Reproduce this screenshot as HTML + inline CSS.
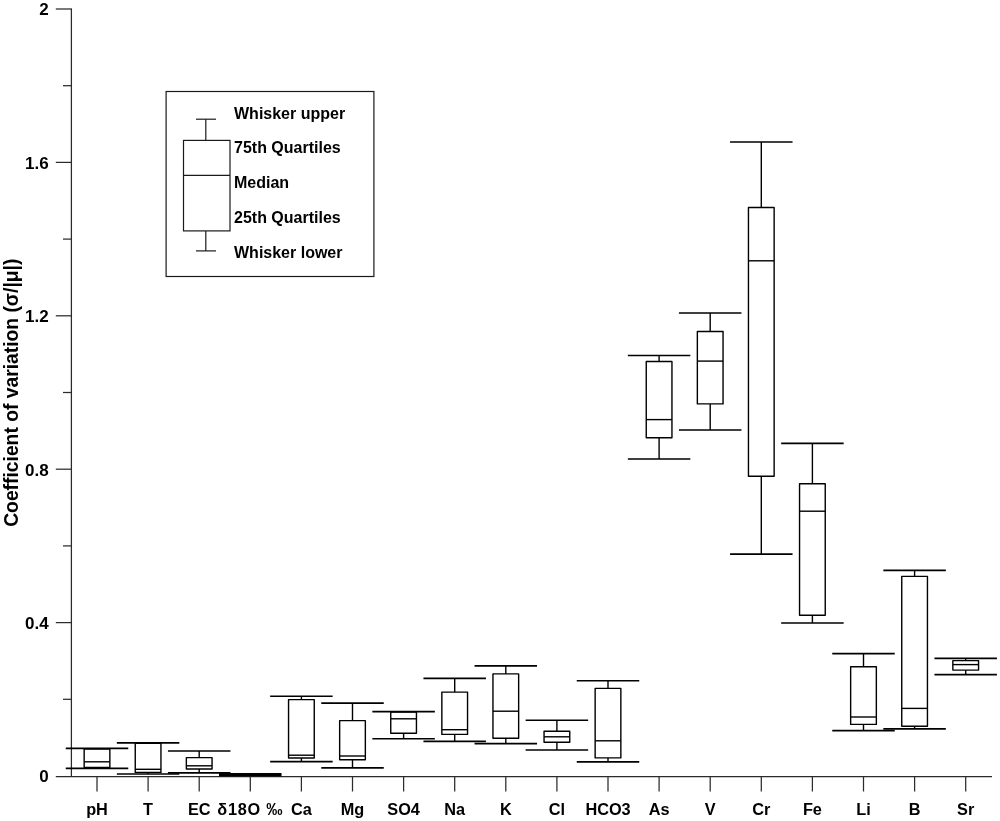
<!DOCTYPE html>
<html><head><meta charset="utf-8"><style>
html,body{margin:0;padding:0;background:#fff;}
svg{display:block;will-change:transform;}
</style></head><body>
<svg width="1000" height="821" viewBox="0 0 1000 821">
<rect width="1000" height="821" fill="#fff"/>
<g stroke="#2b2b2b" stroke-width="1.25" fill="none">
<line x1="71.4" y1="8.4" x2="71.4" y2="776.55"/>
<line x1="55.8" y1="776.55" x2="992" y2="776.55"/>
<line x1="63" y1="699.30" x2="71.4" y2="699.30"/>
<line x1="55.8" y1="622.60" x2="71.4" y2="622.60"/>
<line x1="63" y1="545.90" x2="71.4" y2="545.90"/>
<line x1="55.8" y1="469.20" x2="71.4" y2="469.20"/>
<line x1="63" y1="392.50" x2="71.4" y2="392.50"/>
<line x1="55.8" y1="315.80" x2="71.4" y2="315.80"/>
<line x1="63" y1="239.10" x2="71.4" y2="239.10"/>
<line x1="55.8" y1="162.40" x2="71.4" y2="162.40"/>
<line x1="63" y1="85.70" x2="71.4" y2="85.70"/>
<line x1="55.8" y1="9.00" x2="71.4" y2="9.00"/>
<line x1="97.00" y1="776.55" x2="97.00" y2="791.5"/>
<line x1="148.10" y1="776.55" x2="148.10" y2="791.5"/>
<line x1="199.20" y1="776.55" x2="199.20" y2="791.5"/>
<line x1="250.30" y1="776.55" x2="250.30" y2="791.5"/>
<line x1="301.40" y1="776.55" x2="301.40" y2="791.5"/>
<line x1="352.50" y1="776.55" x2="352.50" y2="791.5"/>
<line x1="403.60" y1="776.55" x2="403.60" y2="791.5"/>
<line x1="454.70" y1="776.55" x2="454.70" y2="791.5"/>
<line x1="505.80" y1="776.55" x2="505.80" y2="791.5"/>
<line x1="556.90" y1="776.55" x2="556.90" y2="791.5"/>
<line x1="608.00" y1="776.55" x2="608.00" y2="791.5"/>
<line x1="659.10" y1="776.55" x2="659.10" y2="791.5"/>
<line x1="710.20" y1="776.55" x2="710.20" y2="791.5"/>
<line x1="761.30" y1="776.55" x2="761.30" y2="791.5"/>
<line x1="812.40" y1="776.55" x2="812.40" y2="791.5"/>
<line x1="863.50" y1="776.55" x2="863.50" y2="791.5"/>
<line x1="914.60" y1="776.55" x2="914.60" y2="791.5"/>
<line x1="965.70" y1="776.55" x2="965.70" y2="791.5"/>
</g>
<g font-family="Liberation Sans, sans-serif" font-weight="bold" font-size="17" text-anchor="end" fill="#000">
<text x="48.6" y="15.30">2</text>
<text x="48.6" y="168.70">1.6</text>
<text x="48.6" y="322.10">1.2</text>
<text x="48.6" y="475.50">0.8</text>
<text x="48.6" y="628.90">0.4</text>
<text x="48.6" y="782.30">0</text>
</g>
<g font-family="Liberation Sans, sans-serif" font-weight="bold" font-size="16.3" text-anchor="middle" fill="#000">
<text x="97.00" y="814.6">pH</text>
<text x="148.10" y="814.6">T</text>
<text x="199.20" y="814.6">EC</text>
<text x="250.30" y="814.6" letter-spacing="0.75">δ18O ‰</text>
<text x="301.40" y="814.6">Ca</text>
<text x="352.50" y="814.6">Mg</text>
<text x="403.60" y="814.6">SO4</text>
<text x="454.70" y="814.6">Na</text>
<text x="505.80" y="814.6">K</text>
<text x="556.90" y="814.6">Cl</text>
<text x="608.00" y="814.6">HCO3</text>
<text x="659.10" y="814.6">As</text>
<text x="710.20" y="814.6">V</text>
<text x="761.30" y="814.6">Cr</text>
<text x="812.40" y="814.6">Fe</text>
<text x="863.50" y="814.6">Li</text>
<text x="914.60" y="814.6">B</text>
<text x="965.70" y="814.6">Sr</text>
</g>
<text transform="translate(17.5,392.7) rotate(-90)" font-family="Liberation Sans, sans-serif" font-weight="bold" font-size="19.3" text-anchor="middle" fill="#000">Coefficient of variation (σ/|μ|)</text>
<g stroke="#000" fill="none" stroke-linejoin="round">
<line x1="65.75" y1="748.4" x2="128.25" y2="748.4" stroke-width="1.65"/>
<line x1="65.75" y1="768.3" x2="128.25" y2="768.3" stroke-width="1.65"/>
<line x1="97.00" y1="748.4" x2="97.00" y2="749.1" stroke-width="1.4"/>
<line x1="97.00" y1="767.5" x2="97.00" y2="768.3" stroke-width="1.4"/>
<rect x="84.15" y="749.1" width="25.70" height="18.40" stroke-width="1.4"/>
<line x1="84.15" y1="761.8" x2="109.85" y2="761.8" stroke-width="1.4"/>
<line x1="116.85" y1="742.8" x2="179.35" y2="742.8" stroke-width="1.65"/>
<line x1="116.85" y1="774.0" x2="179.35" y2="774.0" stroke-width="1.65"/>
<line x1="148.10" y1="742.8" x2="148.10" y2="743.2" stroke-width="1.4"/>
<line x1="148.10" y1="772.4" x2="148.10" y2="774.0" stroke-width="1.4"/>
<rect x="135.25" y="743.2" width="25.70" height="29.20" stroke-width="1.4"/>
<line x1="135.25" y1="769.3" x2="160.95" y2="769.3" stroke-width="1.4"/>
<line x1="167.95" y1="751.0" x2="230.45" y2="751.0" stroke-width="1.65"/>
<line x1="167.95" y1="772.9" x2="230.45" y2="772.9" stroke-width="1.65"/>
<line x1="199.20" y1="751.0" x2="199.20" y2="757.6" stroke-width="1.4"/>
<line x1="199.20" y1="769.0" x2="199.20" y2="772.9" stroke-width="1.4"/>
<rect x="186.35" y="757.6" width="25.70" height="11.40" stroke-width="1.4"/>
<line x1="186.35" y1="765.8" x2="212.05" y2="765.8" stroke-width="1.4"/>
<line x1="270.15" y1="696.2" x2="332.65" y2="696.2" stroke-width="1.65"/>
<line x1="270.15" y1="761.6" x2="332.65" y2="761.6" stroke-width="1.65"/>
<line x1="301.40" y1="696.2" x2="301.40" y2="699.6" stroke-width="1.4"/>
<line x1="301.40" y1="758.0" x2="301.40" y2="761.6" stroke-width="1.4"/>
<rect x="288.55" y="699.6" width="25.70" height="58.40" stroke-width="1.4"/>
<line x1="288.55" y1="755.2" x2="314.25" y2="755.2" stroke-width="1.4"/>
<line x1="321.25" y1="703.1" x2="383.75" y2="703.1" stroke-width="1.65"/>
<line x1="321.25" y1="767.8" x2="383.75" y2="767.8" stroke-width="1.65"/>
<line x1="352.50" y1="703.1" x2="352.50" y2="720.6" stroke-width="1.4"/>
<line x1="352.50" y1="759.8" x2="352.50" y2="767.8" stroke-width="1.4"/>
<rect x="339.65" y="720.6" width="25.70" height="39.20" stroke-width="1.4"/>
<line x1="339.65" y1="756.0" x2="365.35" y2="756.0" stroke-width="1.4"/>
<line x1="372.35" y1="711.6" x2="434.85" y2="711.6" stroke-width="1.65"/>
<line x1="372.35" y1="738.7" x2="434.85" y2="738.7" stroke-width="1.65"/>
<line x1="403.60" y1="711.6" x2="403.60" y2="712.1" stroke-width="1.4"/>
<line x1="403.60" y1="733.3" x2="403.60" y2="738.7" stroke-width="1.4"/>
<rect x="390.75" y="712.1" width="25.70" height="21.20" stroke-width="1.4"/>
<line x1="390.75" y1="718.8" x2="416.45" y2="718.8" stroke-width="1.4"/>
<line x1="423.45" y1="678.4" x2="485.95" y2="678.4" stroke-width="1.65"/>
<line x1="423.45" y1="741.4" x2="485.95" y2="741.4" stroke-width="1.65"/>
<line x1="454.70" y1="678.4" x2="454.70" y2="692.1" stroke-width="1.4"/>
<line x1="454.70" y1="734.4" x2="454.70" y2="741.4" stroke-width="1.4"/>
<rect x="441.85" y="692.1" width="25.70" height="42.30" stroke-width="1.4"/>
<line x1="441.85" y1="729.7" x2="467.55" y2="729.7" stroke-width="1.4"/>
<line x1="474.55" y1="665.8" x2="537.05" y2="665.8" stroke-width="1.65"/>
<line x1="474.55" y1="743.6" x2="537.05" y2="743.6" stroke-width="1.65"/>
<line x1="505.80" y1="665.8" x2="505.80" y2="673.9" stroke-width="1.4"/>
<line x1="505.80" y1="738.2" x2="505.80" y2="743.6" stroke-width="1.4"/>
<rect x="492.95" y="673.9" width="25.70" height="64.30" stroke-width="1.4"/>
<line x1="492.95" y1="711.2" x2="518.65" y2="711.2" stroke-width="1.4"/>
<line x1="525.65" y1="720.2" x2="588.15" y2="720.2" stroke-width="1.65"/>
<line x1="525.65" y1="750.0" x2="588.15" y2="750.0" stroke-width="1.65"/>
<line x1="556.90" y1="720.2" x2="556.90" y2="731.2" stroke-width="1.4"/>
<line x1="556.90" y1="742.2" x2="556.90" y2="750.0" stroke-width="1.4"/>
<rect x="544.05" y="731.2" width="25.70" height="11.00" stroke-width="1.4"/>
<line x1="544.05" y1="736.8" x2="569.75" y2="736.8" stroke-width="1.4"/>
<line x1="576.75" y1="680.7" x2="639.25" y2="680.7" stroke-width="1.65"/>
<line x1="576.75" y1="761.8" x2="639.25" y2="761.8" stroke-width="1.65"/>
<line x1="608.00" y1="680.7" x2="608.00" y2="688.4" stroke-width="1.4"/>
<line x1="608.00" y1="757.9" x2="608.00" y2="761.8" stroke-width="1.4"/>
<rect x="595.15" y="688.4" width="25.70" height="69.50" stroke-width="1.4"/>
<line x1="595.15" y1="740.8" x2="620.85" y2="740.8" stroke-width="1.4"/>
<line x1="627.85" y1="355.5" x2="690.35" y2="355.5" stroke-width="1.65"/>
<line x1="627.85" y1="459.0" x2="690.35" y2="459.0" stroke-width="1.65"/>
<line x1="659.10" y1="355.5" x2="659.10" y2="361.5" stroke-width="1.4"/>
<line x1="659.10" y1="437.7" x2="659.10" y2="459.0" stroke-width="1.4"/>
<rect x="646.25" y="361.5" width="25.70" height="76.20" stroke-width="1.4"/>
<line x1="646.25" y1="419.6" x2="671.95" y2="419.6" stroke-width="1.4"/>
<line x1="678.95" y1="313.0" x2="741.45" y2="313.0" stroke-width="1.65"/>
<line x1="678.95" y1="430.0" x2="741.45" y2="430.0" stroke-width="1.65"/>
<line x1="710.20" y1="313.0" x2="710.20" y2="331.5" stroke-width="1.4"/>
<line x1="710.20" y1="403.9" x2="710.20" y2="430.0" stroke-width="1.4"/>
<rect x="697.35" y="331.5" width="25.70" height="72.40" stroke-width="1.4"/>
<line x1="697.35" y1="361.1" x2="723.05" y2="361.1" stroke-width="1.4"/>
<line x1="730.05" y1="142.0" x2="792.55" y2="142.0" stroke-width="1.65"/>
<line x1="730.05" y1="554.1" x2="792.55" y2="554.1" stroke-width="1.65"/>
<line x1="761.30" y1="142.0" x2="761.30" y2="207.5" stroke-width="1.4"/>
<line x1="761.30" y1="476.3" x2="761.30" y2="554.1" stroke-width="1.4"/>
<rect x="748.45" y="207.5" width="25.70" height="268.80" stroke-width="1.4"/>
<line x1="748.45" y1="260.8" x2="774.15" y2="260.8" stroke-width="1.4"/>
<line x1="781.15" y1="443.3" x2="843.65" y2="443.3" stroke-width="1.65"/>
<line x1="781.15" y1="623.0" x2="843.65" y2="623.0" stroke-width="1.65"/>
<line x1="812.40" y1="443.3" x2="812.40" y2="483.8" stroke-width="1.4"/>
<line x1="812.40" y1="615.2" x2="812.40" y2="623.0" stroke-width="1.4"/>
<rect x="799.55" y="483.8" width="25.70" height="131.40" stroke-width="1.4"/>
<line x1="799.55" y1="511.2" x2="825.25" y2="511.2" stroke-width="1.4"/>
<line x1="832.25" y1="653.6" x2="894.75" y2="653.6" stroke-width="1.65"/>
<line x1="832.25" y1="730.6" x2="894.75" y2="730.6" stroke-width="1.65"/>
<line x1="863.50" y1="653.6" x2="863.50" y2="666.8" stroke-width="1.4"/>
<line x1="863.50" y1="724.4" x2="863.50" y2="730.6" stroke-width="1.4"/>
<rect x="850.65" y="666.8" width="25.70" height="57.60" stroke-width="1.4"/>
<line x1="850.65" y1="717.0" x2="876.35" y2="717.0" stroke-width="1.4"/>
<line x1="883.35" y1="570.3" x2="945.85" y2="570.3" stroke-width="1.65"/>
<line x1="883.35" y1="728.8" x2="945.85" y2="728.8" stroke-width="1.65"/>
<line x1="914.60" y1="570.3" x2="914.60" y2="576.4" stroke-width="1.4"/>
<line x1="914.60" y1="726.2" x2="914.60" y2="728.8" stroke-width="1.4"/>
<rect x="901.75" y="576.4" width="25.70" height="149.80" stroke-width="1.4"/>
<line x1="901.75" y1="708.4" x2="927.45" y2="708.4" stroke-width="1.4"/>
<line x1="934.45" y1="658.4" x2="996.95" y2="658.4" stroke-width="1.65"/>
<line x1="934.45" y1="674.6" x2="996.95" y2="674.6" stroke-width="1.65"/>
<line x1="965.70" y1="658.4" x2="965.70" y2="660.6" stroke-width="1.4"/>
<line x1="965.70" y1="670.1" x2="965.70" y2="674.6" stroke-width="1.4"/>
<rect x="952.85" y="660.6" width="25.70" height="9.50" stroke-width="1.4"/>
<line x1="952.85" y1="664.6" x2="978.55" y2="664.6" stroke-width="1.4"/>
</g>
<rect x="219" y="773" width="62.5" height="3.4" fill="#000"/>
<rect x="166.1" y="91.5" width="207.8" height="185" fill="none" stroke="#1a1a1a" stroke-width="1.2"/>
<g stroke="#1a1a1a" fill="none" stroke-width="1.2">
<line x1="196" y1="119.2" x2="216" y2="119.2"/>
<line x1="205.8" y1="119.2" x2="205.8" y2="140.4"/>
<rect x="183.5" y="140.4" width="46.5" height="90.5"/>
<line x1="183.5" y1="175.4" x2="230" y2="175.4"/>
<line x1="205.8" y1="230.9" x2="205.8" y2="250.9"/>
<line x1="196" y1="250.9" x2="216" y2="250.9"/>
</g>
<g font-family="Liberation Sans, sans-serif" font-weight="bold" font-size="16" fill="#000">
<text x="234" y="118.8">Whisker upper</text>
<text x="234" y="153.2">75th Quartiles</text>
<text x="234" y="188.4">Median</text>
<text x="234" y="223.2">25th Quartiles</text>
<text x="234" y="258.3">Whisker lower</text>
</g>
</svg>
</body></html>
